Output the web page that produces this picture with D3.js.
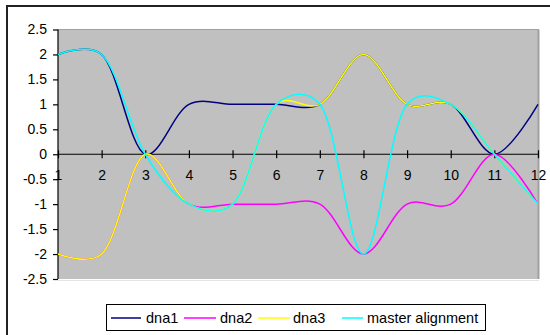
<!DOCTYPE html>
<html>
<head>
<meta charset="utf-8">
<script src="https://cdn.jsdelivr.net/npm/d3@7"></script>
<style>
  html, body { margin: 0; padding: 0; background: #fff; }
  svg { display: block; font-family: "Liberation Sans", Arial, sans-serif; }
</style>
</head>
<body>
<svg id="chart" width="550" height="335"></svg>
<script>
const categories = [1, 2, 3, 4, 5, 6, 7, 8, 9, 10, 11, 12];
const dna1 = [2, 2, 0, 1, 1, 1, 1, 2, 1, 1, 0, 1];
const dna2 = [-2, -2, 0, -1, -1, -1, -1, -2, -1, -1, 0, -1];
const dna3 = [-2, -2, 0, -1, -1, 1, 1, 2, 1, 1, 0, -1];
const master = [2, 2, 0, -1, -1, 1, 1, -2, 1, 1, 0, -1];
const seriesNames = ["dna1", "dna2", "dna3", "master alignment"];
const seriesColors = ["#000080", "#FF00FF", "#FFFF00", "#00FFFF"];
const yTicks = [2.5, 2, 1.5, 1, 0.5, 0, -0.5, -1, -1.5, -2, -2.5];
const yTickLabels = ["2.5", "2", "1.5", "1", "0.5", "0", "-0.5", "-1", "-1.5", "-2", "-2.5"];

const svg = d3.select("#chart");
const pLeft = 58, pRight = 538, pTop = 29.5, pBottom = 279;

const x = d3.scaleLinear().domain([1, 12]).range([pLeft, pRight]);
const y = d3.scaleLinear().domain([-2.5, 2.5]).range([pBottom, pTop]);

// outer frame
svg.append("rect").attr("x", 7).attr("y", 6).attr("width", 560).attr("height", 340)
  .attr("fill", "#fff").attr("stroke", "#222").attr("stroke-width", 2);

// plot area
svg.append("rect").attr("x", pLeft).attr("y", pTop).attr("width", pRight - pLeft).attr("height", pBottom - pTop)
  .attr("fill", "#C0C0C0");
svg.append("line").attr("x1", pLeft).attr("x2", pRight + 1).attr("y1", pTop).attr("y2", pTop)
  .attr("stroke", "#a0a0a0").attr("stroke-width", 1);
svg.append("line").attr("x1", pRight + 0.5).attr("x2", pRight + 0.5).attr("y1", pTop).attr("y2", pBottom)
  .attr("stroke", "#a0a0a0").attr("stroke-width", 2);
svg.append("line").attr("x1", pLeft).attr("x2", pRight + 1).attr("y1", pBottom + 1.5).attr("y2", pBottom + 1.5)
  .attr("stroke", "#e4e4e4").attr("stroke-width", 1);

// y axis
const yAxis = d3.axisLeft(y).tickValues(yTicks).tickSize(5).tickPadding(6)
  .tickFormat((d, i) => yTickLabels[i]);
const gy = svg.append("g").attr("transform", `translate(${pLeft},0)`).call(yAxis);
gy.select(".domain").attr("stroke", "#000").attr("stroke-width", 1.2).attr("d", `M0,${pTop}V${pBottom}`);
gy.selectAll(".tick line").attr("stroke", "#000").attr("stroke-width", 1.2);
gy.selectAll(".tick text").attr("font-size", 14).attr("fill", "#000")
  .attr("font-family", "Liberation Sans, Arial, sans-serif");

// x axis at y=0
const xAxis = d3.axisBottom(x).tickValues(categories).tickSize(4).tickSizeOuter(0).tickFormat(d3.format("d"));
const gx = svg.append("g").attr("transform", `translate(0,${y(0)})`).call(xAxis);
gx.select(".domain").attr("stroke", "#000").attr("stroke-width", 1.2).attr("d", `M${pLeft},0H${pRight}`);
gx.selectAll(".tick line").attr("stroke", "#000").attr("stroke-width", 1.2).attr("y1", -4).attr("y2", 4);
gx.selectAll(".tick text").attr("font-size", 14).attr("fill", "#000").attr("y", 16)
  .attr("font-family", "Liberation Sans, Arial, sans-serif");

// lines
const line = d3.line()
  .x((d, i) => x(categories[i]))
  .y(d => y(d))
  .curve(d3.curveCatmullRom.alpha(0.25));

[dna1, dna2, dna3, master].forEach((s, k) => {
  svg.append("path").datum(s).attr("d", line)
    .attr("fill", "none").attr("stroke", seriesColors[k]).attr("stroke-width", 1.5)
    .attr("stroke-linejoin", "round");
});

// legend
const lg = svg.append("g");
lg.append("rect").attr("x", 106.5).attr("y", 304.5).attr("width", 379).attr("height", 26)
  .attr("fill", "#fff").attr("stroke", "#000").attr("stroke-width", 1);
const entries = [
  { x0: 111, x1: 141, tx: 146 },
  { x0: 184, x1: 216, tx: 220 },
  { x0: 258, x1: 290, tx: 293 },
  { x0: 342, x1: 363, tx: 367 }
];
entries.forEach((e, k) => {
  lg.append("line").attr("x1", e.x0).attr("x2", e.x1).attr("y1", 318).attr("y2", 318)
    .attr("stroke", seriesColors[k]).attr("stroke-width", 1.5);
  lg.append("text").attr("x", e.tx).attr("y", 323).attr("font-size", 14.5).attr("fill", "#000")
    .text(seriesNames[k]);
});
</script>
</body>
</html>
